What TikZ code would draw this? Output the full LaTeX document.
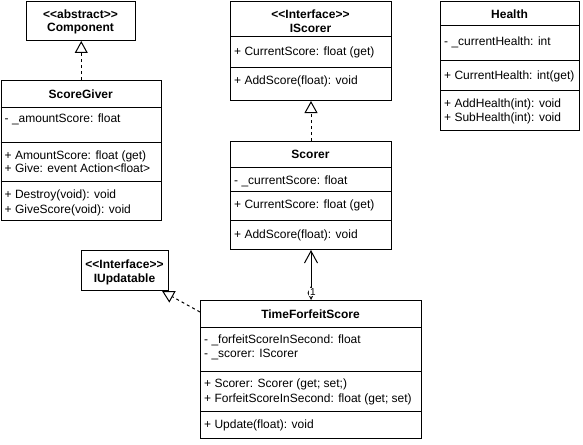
\documentclass[tikz,border=0pt]{standalone}
\usepackage{fontspec}
\setmainfont{Liberation Sans}[Ligatures=TeXOff]
\usetikzlibrary{arrows.meta}
\begin{document}
\begin{tikzpicture}[x=1pt,y=-1pt,
  box/.style={draw, line width=1pt, inner sep=0pt, anchor=north west, fill=white},
  sep/.style={line width=1pt},
  txt/.style={anchor=west, inner sep=0pt, text height=8.6pt, text depth=0pt, font=\fontsize{12}{14}\selectfont},
  ttl/.style={anchor=center, inner sep=0pt, text height=8.6pt, text depth=0pt, font=\bfseries\fontsize{12}{14}\selectfont},
  dsh/.style={line width=1pt, dash pattern=on 3pt off 3pt},
  realize/.style={dsh, -{Triangle[open, length=12pt, width=13pt, line width=1pt, sep=0pt]}},
]
\useasboundingbox (0,0) rectangle (583,444);

% Component
\node[box, minimum width=109pt, minimum height=39pt] (comp) at (26,1) {};
\node[ttl] (compa) at (80.5,14) {<<abstract>>};
\node[ttl] (compb) at (80.5,27) {Component};

% IScorer
\node[box, minimum width=161pt, minimum height=99pt] (isc) at (230,1) {};
\draw[sep] (230,37) -- (391,37);
\draw[sep] (230,67) -- (391,67);
\node[ttl] (isca) at (310.5,14) {<<Interface>>};
\node[ttl] (iscb) at (310.5,28) {IScorer};
\node[txt] (iscc) at (234,51) {+ CurrentScore: float (get)};
\node[txt] (iscd) at (234,80) {+ AddScore(float): void};

% Health
\node[box, minimum width=139pt, minimum height=129pt] (hp) at (440,1) {};
\draw[sep] (440,26) -- (579,26);
\draw[sep] (440,61) -- (579,61);
\draw[sep] (440,90) -- (579,90);
\node[ttl] (hpa) at (509.5,14) {Health};
\node[txt] (hpb) at (444,41) {- \_currentHealth: int};
\node[txt] (hpc) at (444,75) {+ CurrentHealth: int(get)};
\node[txt] (hpd) at (444,103) {+ AddHealth(int): void};
\node[txt] (hpe) at (444,117) {+ SubHealth(int): void};

% ScoreGiver
\node[box, minimum width=160.5pt, minimum height=140pt] (sg) at (0.5,80) {};
\draw[sep] (0.5,107) -- (161,107);
\draw[sep] (0.5,142) -- (161,142);
\draw[sep] (0.5,181) -- (161,181);
\node[ttl] (sga) at (80.75,94) {ScoreGiver};
\node[txt] (sgb) at (4.5,118) {- \_amountScore: float};
\node[txt] (sgc) at (4.5,155) {+ AmountScore: float (get)};
\node[txt] (sgd) at (4.5,168) {+ Give: event Action<float>};
\node[txt] (sge) at (4.5,194) {+ Destroy(void): void};
\node[txt] (sgf) at (4.5,209) {+ GiveScore(void): void};

% Scorer
\node[box, minimum width=161pt, minimum height=108pt] (sc) at (230,141) {};
\draw[sep] (230,167) -- (391,167);
\draw[sep] (230,191) -- (391,191);
\draw[sep] (230,220) -- (391,220);
\node[ttl] (sca) at (310.5,154) {Scorer};
\node[txt] (scb) at (234,180) {- \_currentScore: float};
\node[txt] (scc) at (234,204) {+ CurrentScore: float (get)};
\node[txt] (scd) at (234,234) {+ AddScore(float): void};

% IUpdatable
\node[box, minimum width=87pt, minimum height=40pt] (iu) at (81,250) {};
\node[ttl] (iua) at (124.5,264) {<<Interface>>};
\node[ttl] (iub) at (124.5,278) {IUpdatable};

% TimeForfeitScore
\node[box, minimum width=221pt, minimum height=138pt] (tfs) at (200,300) {};
\draw[sep] (200,327) -- (421,327);
\draw[sep] (200,371) -- (421,371);
\draw[sep] (200,411) -- (421,411);
\node[ttl] (tfsa) at (310.5,314) {TimeForfeitScore};
\node[txt] (tfsb) at (204,339) {- \_forfeitScoreInSecond: float};
\node[txt] (tfsc) at (204,353) {- \_scorer: IScorer};
\node[txt] (tfsd) at (204,383) {+ Scorer: Scorer (get; set;)};
\node[txt] (tfse) at (204,398) {+ ForfeitScoreInSecond: float (get; set)};
\node[txt] (tfsf) at (204,424) {+ Update(float): void};

% connectors
\draw[realize] (sg.north) -- (sg.north |- comp.south);
\draw[realize] (sc.north) -- (isc.south);
\coordinate (rstart) at (200,312);
\draw[realize] (rstart) -- (iu);
\draw[line width=1pt, {Diamond[open, length=14pt, width=7pt, line width=1pt, sep=0pt]}-{Straight Barb[length=12pt, width=13pt, line width=1pt]}] (tfs.north) -- (sc.south);
\node[fill=white, inner sep=0.8pt, font=\fontsize{10}{11}\selectfont] (mult) at (313,292) {1};
\end{tikzpicture}
\end{document}
